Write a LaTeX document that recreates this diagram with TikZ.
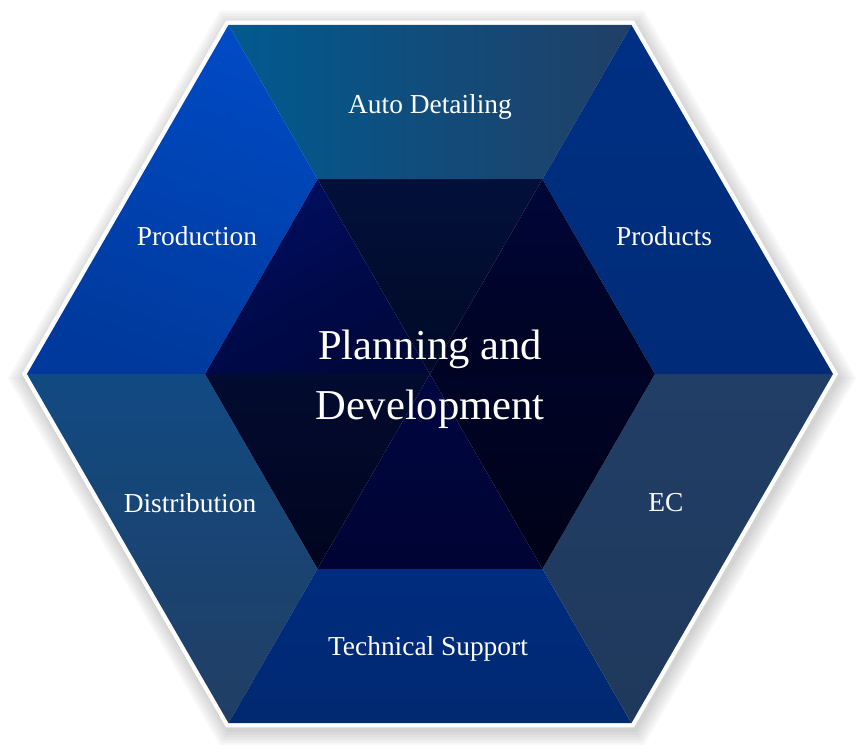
\documentclass[tikz,border=0pt]{standalone}
\usepackage{fontspec}
\setmainfont{Liberation Serif}
\usetikzlibrary{positioning}

\definecolor{autoL}{HTML}{005A90}
\definecolor{autoR}{HTML}{213F66}
\definecolor{prodT}{HTML}{004AC4}
\definecolor{prodB}{HTML}{00399C}
\definecolor{prdsT}{HTML}{003084}
\definecolor{prdsB}{HTML}{002B78}
\definecolor{ecT}{HTML}{213E66}
\definecolor{ecB}{HTML}{1F395B}
\definecolor{techT}{HTML}{002C80}
\definecolor{techB}{HTML}{00296F}
\definecolor{distT}{HTML}{114A82}
\definecolor{distB}{HTML}{213E64}

\tikzset{
  sector/.style={text=white, anchor=base, inner sep=0pt,
    font=\fontsize{13.7}{16}\selectfont},
  hub/.style={text=white, align=center, inner sep=0pt,
    font=\fontsize{21.3}{30}\selectfont},
}

\begin{document}
\begin{tikzpicture}[x=0.5pt,y=0.5pt]
\useasboundingbox (-430,-378) rectangle (428,374);

%%% points
\coordinate (O) at (0,0);
\coordinate (A1) at (0:403);
\coordinate (A2) at (60:403);
\coordinate (A3) at (120:403);
\coordinate (A4) at (180:403);
\coordinate (A5) at (240:403);
\coordinate (A6) at (300:403);
\coordinate (B1) at (0:225);
\coordinate (B2) at (60:225);
\coordinate (B3) at (120:225);
\coordinate (B4) at (180:225);
\coordinate (B5) at (240:225);
\coordinate (B6) at (300:225);
%%%

%% shadow
\begin{scope}[shift={(2,-4)}]
\foreach \r in {424,421,418,415,412,409}
  \fill[black,opacity=0.03] (0:\r) -- (60:\r) -- (120:\r) -- (180:\r) -- (240:\r) -- (300:\r) -- cycle;
\end{scope}

%% white rim
\fill[white] (0:408) -- (60:408) -- (120:408) -- (180:408) -- (240:408) -- (300:408) -- cycle;

%% outer ring
\shade[left color=autoL, right color=autoR] (A2) -- (A3) -- (B3) -- (B2) -- cycle;
\shade[top color=prodT, bottom color=prodB, shading angle=-20] (A3) -- (A4) -- (B4) -- (B3) -- cycle;
\shade[top color=distT, bottom color=distB] (A4) -- (A5) -- (B5) -- (B4) -- cycle;
\shade[top color=techT, bottom color=techB] (A5) -- (A6) -- (B6) -- (B5) -- cycle;
\shade[top color=ecT, bottom color=ecB] (A6) -- (A1) -- (B1) -- (B6) -- cycle;
\shade[top color=prdsT, bottom color=prdsB] (A1) -- (A2) -- (B2) -- (B1) -- cycle;

%% inner hexagon
\shade[top color={rgb,255:red,2;green,16;blue,58}, bottom color={rgb,255:red,1;green,9;blue,38}] (O) -- (B2) -- (B3) -- cycle;
\shade[top color={rgb,255:red,0;green,14;blue,96}, bottom color={rgb,255:red,0;green,7;blue,58}, shading angle=30] (O) -- (B3) -- (B4) -- cycle;
\shade[top color={rgb,255:red,2;green,11;blue,48}, bottom color={rgb,255:red,1;green,5;blue,30}] (O) -- (B4) -- (B5) -- cycle;
\shade[top color={rgb,255:red,0;green,6;blue,64}, bottom color={rgb,255:red,0;green,4;blue,52}] (O) -- (B5) -- (B6) -- cycle;
\shade[top color={rgb,255:red,0;green,4;blue,38}, bottom color={rgb,255:red,0;green,2;blue,24}] (O) -- (B6) -- (B1) -- cycle;
\shade[top color={rgb,255:red,0;green,6;blue,56}, bottom color={rgb,255:red,0;green,3;blue,34}] (O) -- (B1) -- (B2) -- cycle;

%% labels
\node[sector] (auto) at (0,261) {Auto Detailing};
\node[sector] (production) at (-233,129) {Production};
\node[sector] (products) at (234,129) {Products};
\node[sector] (distribution) at (-240,-138) {Distribution};
\node[sector] (ec) at (236,-137) {EC};
\node[sector] (technical) at (-2,-281) {Technical Support};

\node[hub] (planning) at (0,-5) {Planning and\\Development};

\end{tikzpicture}
\end{document}
